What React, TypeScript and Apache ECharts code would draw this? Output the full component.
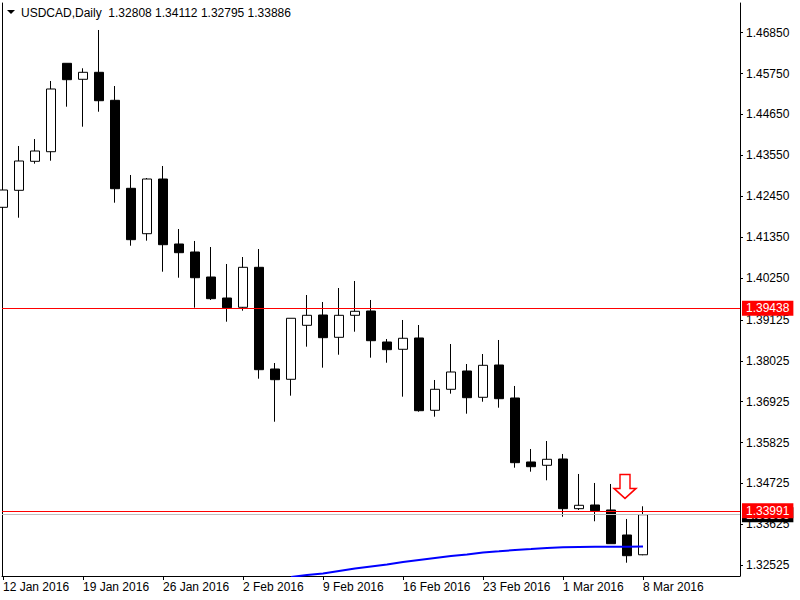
import React, { useEffect, useRef } from "react";
import * as echarts from "echarts";

// ---- data ----
const dayIndex = [0, 1, 2, 3, 4, 5, 6, 7, 8, 9, 10, 11, 12, 13, 14, 15, 16, 17, 18, 19, 20, 21, 22, 23, 24, 25, 26, 27, 28, 29, 30, 31, 32, 33, 34, 35, 36, 37, 38, 39, 40];
const opens = [1.42154, 1.42611, 1.43391, 1.43649, 1.46027, 1.45597, 1.45785, 1.45032, 1.42665, 1.41444, 1.42915, 1.41167, 1.40952, 1.40279, 1.39714, 1.39464, 1.40540, 1.37805, 1.37528, 1.38980, 1.39257, 1.38657, 1.39249, 1.39365, 1.38531, 1.38335, 1.38639, 1.36694, 1.37259, 1.37751, 1.37044, 1.37912, 1.37025, 1.35304, 1.35215, 1.35384, 1.34048, 1.34147, 1.34013, 1.33340, 1.32808];
const highs = [1.43157, 1.43803, 1.43991, 1.45551, 1.46027, 1.45893, 1.46923, 1.45416, 1.43023, 1.42942, 1.43265, 1.41570, 1.41248, 1.41086, 1.40629, 1.40817, 1.41032, 1.37966, 1.39169, 1.39795, 1.39607, 1.39983, 1.40172, 1.39661, 1.38612, 1.39123, 1.38988, 1.37509, 1.38477, 1.37939, 1.38208, 1.38585, 1.37348, 1.35653, 1.35868, 1.35519, 1.34981, 1.34739, 1.34712, 1.33771, 1.34112];
const lows = [1.41759, 1.41874, 1.43327, 1.43407, 1.44860, 1.44322, 1.44725, 1.42278, 1.41121, 1.41256, 1.40422, 1.40260, 1.39454, 1.39661, 1.39077, 1.39373, 1.37544, 1.36387, 1.37087, 1.38405, 1.37840, 1.38189, 1.38808, 1.38109, 1.37974, 1.37060, 1.36656, 1.36522, 1.37141, 1.36603, 1.36925, 1.36764, 1.35150, 1.35043, 1.34811, 1.33832, 1.34013, 1.33709, 1.33106, 1.32595, 1.32795];
const closes = [1.42619, 1.43399, 1.43668, 1.45336, 1.45586, 1.45785, 1.45021, 1.42654, 1.41283, 1.42915, 1.41148, 1.40933, 1.40260, 1.39696, 1.39454, 1.40540, 1.37786, 1.37517, 1.39169, 1.39249, 1.38647, 1.39249, 1.39357, 1.38566, 1.38324, 1.38631, 1.36683, 1.37259, 1.37724, 1.37033, 1.37904, 1.37006, 1.35285, 1.35177, 1.35376, 1.34048, 1.34139, 1.33994, 1.33106, 1.32783, 1.33886];

const maIndex = [18, 19, 20, 21, 22, 23, 24, 25, 26, 27, 28, 29, 30, 31, 32, 33, 34, 35, 36, 37, 38, 39, 40];
const maValues = [1.32210, 1.32264, 1.32305, 1.32372, 1.32439, 1.32493, 1.32547, 1.32614, 1.32668, 1.32722, 1.32775, 1.32816, 1.32870, 1.32902, 1.32937, 1.32963, 1.32990, 1.33009, 1.33017, 1.33023, 1.33025, 1.33025, 1.33031];

const weekTickIndex = [0, 5, 10, 15, 20, 25, 30, 35, 40];
const weekTickLabels = ["12 Jan 2016", "19 Jan 2016", "26 Jan 2016", "2 Feb 2016", "9 Feb 2016", "16 Feb 2016", "23 Feb 2016", "1 Mar 2016", "8 Mar 2016"];

const priceTicks = [1.32525, 1.33625, 1.34725, 1.35825, 1.36925, 1.38025, 1.39125, 1.40250, 1.41350, 1.42450, 1.43550, 1.44650, 1.45750, 1.46850];

const levelUpper = 1.39438;
const levelLower = 1.33991;
const bidPrice = 1.33886;
const signalArrow = { index: 38.875, price: 1.34645 };

const titleText = "USDCAD,Daily  1.32808 1.34112 1.32795 1.33886";

const Y_MIN = 1.32237;
const Y_MAX = 1.47649;
const X_MIN = -0.0625;
const X_MAX = 46.0625;

const FONT = "'Liberation Sans', Arial, sans-serif";

export default function App() {
  const ref = useRef<HTMLDivElement>(null);

  useEffect(() => {
    if (!ref.current) return;
    const chart = echarts.init(ref.current, null, { renderer: "svg" });

    const candleData = dayIndex.map((d, i) => [d, opens[i], closes[i], lows[i], highs[i]]);
    const maData = maIndex.map((d, i) => [d, maValues[i]]);

    const priceLabel = (bg: string) => ({
      show: true,
      position: "end",
      distance: 2,
      formatter: (p: any) => Number(p.value).toFixed(5),
      color: "#fff",
      backgroundColor: bg,
      padding: [1, 4, 1, 4],
      fontFamily: FONT,
      fontSize: 12,
      lineHeight: 13,
    });

    chart.setOption({
      animation: false,
      backgroundColor: "#fff",
      grid: { left: 2, right: 60, top: 3, bottom: 24, containLabel: false, outerBoundsMode: "none" },
      xAxis: {
        type: "value",
        min: X_MIN,
        max: X_MAX,
        splitLine: { show: false },
        axisLine: { show: true, onZero: false, lineStyle: { color: "#000", width: 1 } },
        axisTick: { show: true, length: 4, customValues: weekTickIndex, lineStyle: { color: "#000" } },
        axisLabel: {
          show: true,
          customValues: weekTickIndex,
          formatter: (v: number) => {
            const k = weekTickIndex.indexOf(Math.round(v));
            return k >= 0 ? weekTickLabels[k] : "";
          },
          align: "left",
          margin: 5,
          color: "#000",
          fontFamily: FONT,
          fontSize: 12,
        },
      },
      yAxis: [
        {
          type: "value",
          position: "right",
          min: Y_MIN,
          max: Y_MAX,
          splitLine: { show: false },
          axisLine: { show: true, onZero: false, lineStyle: { color: "#000", width: 1 } },
          axisTick: { show: true, length: 3, customValues: priceTicks, lineStyle: { color: "#000" } },
          axisLabel: {
            show: true,
            customValues: priceTicks,
            formatter: (v: number) => v.toFixed(5),
            margin: 6,
            color: "#000",
            fontFamily: FONT,
            fontSize: 12,
          },
        },
        {
          type: "value",
          position: "left",
          min: Y_MIN,
          max: Y_MAX,
          splitLine: { show: false },
          axisLine: { show: true, onZero: false, lineStyle: { color: "#000", width: 1 } },
          axisTick: { show: false },
          axisLabel: { show: false },
        },
      ],
      graphic: [
        { type: "polygon", shape: { points: [[7, 10], [15, 10], [11, 14]] }, style: { fill: "#000" } },
        {
          type: "text",
          x: 21,
          y: 13,
          style: { text: titleText, fill: "#000", fontFamily: FONT, fontSize: 12, verticalAlign: "middle" },
        },
      ],
      series: [
        {
          type: "candlestick",
          data: candleData,
          encode: { x: 0, y: [1, 2, 3, 4] },
          barWidth: 9,
          clip: true,
          z: 2,
          itemStyle: {
            color: "#fff",
            color0: "#000",
            borderColor: "#000",
            borderColor0: "#000",
            borderColorDoji: "#000",
            borderWidth: 1,
          },
        },
        {
          type: "line",
          data: maData,
          showSymbol: false,
          symbol: "none",
          clip: true,
          z: 3,
          lineStyle: { color: "#0000FF", width: 2 },
          markLine: {
            silent: true,
            precision: 5,
            symbol: ["none", "none"],
            animation: false,
            data: [
              { yAxis: bidPrice, lineStyle: { color: "#C0C0C0", width: 1, type: "solid" }, label: priceLabel("#000") },
              { yAxis: levelUpper, lineStyle: { color: "#FF0000", width: 1, type: "solid" }, label: priceLabel("#FF0000") },
              { yAxis: levelLower, lineStyle: { color: "#FF0000", width: 1, type: "solid" }, label: priceLabel("#FF0000") },
            ],
          },
          markPoint: {
            silent: true,
            data: [
              {
                coord: [signalArrow.index, signalArrow.price],
                symbol: "path://M6,0L16,0L16,14L22,14L11,24L0,14L6,14Z",
                symbolSize: [22, 24],
                itemStyle: { color: "#fff", borderColor: "#FF0000", borderWidth: 1.5 },
                label: { show: false },
              },
            ],
          },
        },
      ],
    });

    return () => chart.dispose();
  }, []);

  return (
    <div
      ref={ref}
      style={{ position: "absolute", left: 0, top: 0, width: 800, height: 600, background: "#fff" }}
    />
  );
}
